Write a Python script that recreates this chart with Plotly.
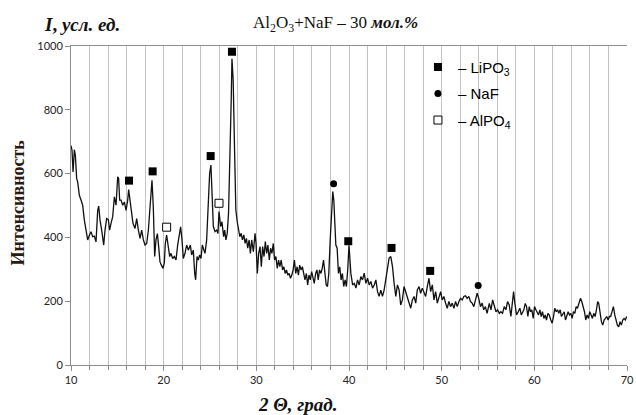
import plotly.graph_objects as go

# ---- data ----
two_theta = [
    10.0, 10.11, 10.22, 10.36, 10.47, 10.61, 10.72, 10.9, 11.08, 11.26, 11.44, 11.62, 11.8, 11.98,
    12.16, 12.34, 12.52, 12.7, 12.88, 12.99, 13.13, 13.31, 13.53, 13.67, 13.85, 14.03, 14.17, 14.32,
    14.5, 14.68, 14.86, 15.04, 15.14, 15.25, 15.4, 15.58, 15.76, 15.94, 16.12, 16.22, 16.37, 16.51,
    16.69, 16.91, 17.09, 17.27, 17.45, 17.63, 17.81, 17.99, 18.17, 18.35, 18.56, 18.74, 18.88, 19.03,
    19.17, 19.32, 19.46, 19.6, 19.75, 19.93, 20.07, 20.18, 20.32, 20.5, 20.65, 20.79, 20.97, 21.15,
    21.33, 21.51, 21.69, 21.83, 21.98, 22.12, 22.3, 22.48, 22.66, 22.88, 23.02, 23.2, 23.35, 23.45,
    23.6, 23.74, 23.88, 24.03, 24.17, 24.32, 24.46, 24.64, 24.82, 24.96, 25.1, 25.22, 25.36, 25.54,
    25.72, 25.86, 25.97, 26.15, 26.29, 26.47, 26.58, 26.72, 26.86, 27.0, 27.15, 27.29, 27.37, 27.5,
    27.65, 27.79, 27.94, 28.08, 28.22, 28.36, 28.5, 28.65, 28.79, 28.93, 29.07, 29.22, 29.36, 29.5,
    29.68, 29.86, 29.97, 30.11, 30.25, 30.4, 30.54, 30.68, 30.83, 30.97, 31.11, 31.25, 31.4, 31.54,
    31.68, 31.83, 31.97, 32.11, 32.26, 32.4, 32.54, 32.68, 32.83, 32.97, 33.11, 33.25, 33.4, 33.54,
    33.68, 33.83, 33.97, 34.11, 34.25, 34.4, 34.54, 34.68, 34.82, 34.97, 35.11, 35.25, 35.4, 35.54,
    35.68, 35.82, 35.97, 36.11, 36.25, 36.4, 36.54, 36.68, 36.82, 36.97, 37.11, 37.25, 37.4, 37.54,
    37.68, 37.82, 37.97, 38.11, 38.25, 38.36, 38.47, 38.58, 38.72, 38.86, 39.0, 39.15, 39.29, 39.43,
    39.58, 39.72, 39.86, 40.0, 40.2, 40.39, 40.57, 40.75, 40.92, 41.1, 41.28, 41.46, 41.64, 41.82,
    42.0, 42.18, 42.36, 42.54, 42.72, 42.9, 43.08, 43.25, 43.43, 43.61, 43.79, 43.97, 44.15, 44.33,
    44.51, 44.69, 44.87, 45.05, 45.23, 45.41, 45.58, 45.76, 45.94, 46.12, 46.3, 46.48, 46.66, 46.84,
    47.02, 47.2, 47.37, 47.56, 47.73, 47.91, 48.09, 48.27, 48.45, 48.63, 48.81, 48.99, 49.17, 49.35,
    49.53, 49.71, 49.89, 50.06, 50.24, 50.42, 50.6, 50.78, 50.96, 51.14, 51.32, 51.5, 51.68, 51.86,
    52.04, 52.22, 52.39, 52.57, 52.75, 52.93, 53.11, 53.29, 53.47, 53.65, 53.83, 54.0, 54.19, 54.37,
    54.54, 54.72, 54.9, 55.14, 55.32, 55.5, 55.68, 55.86, 56.04, 56.22, 56.39, 56.57, 56.75, 56.93,
    57.11, 57.29, 57.47, 57.65, 57.76, 57.9, 58.08, 58.26, 58.44, 58.59, 58.73, 58.87, 59.02, 59.16,
    59.3, 59.45, 59.59, 59.73, 59.88, 60.02, 60.17, 60.31, 60.45, 60.6, 60.74, 60.88, 61.03, 61.17,
    61.31, 61.46, 61.6, 61.78, 61.92, 62.07, 62.21, 62.36, 62.5, 62.64, 62.79, 62.93, 63.07, 63.22,
    63.36, 63.5, 63.65, 63.79, 63.94, 64.08, 64.22, 64.37, 64.51, 64.65, 64.83, 64.98, 65.12, 65.26,
    65.41, 65.55, 65.69, 65.84, 65.98, 66.13, 66.27, 66.41, 66.56, 66.7, 66.84, 66.95, 67.1, 67.24,
    67.38, 67.53, 67.67, 67.81, 67.96, 68.1, 68.24, 68.39, 68.53, 68.68, 68.82, 68.96, 69.11, 69.25,
    69.39, 69.54, 69.68, 69.82, 69.97,
]
intensity = [
    688, 673, 605, 675, 657, 585, 574, 532, 517, 501, 454, 423, 392, 407,
    418, 402, 404, 386, 485, 498, 454, 423, 376, 423, 459, 456, 423, 444,
    465, 527, 501, 590, 585, 517, 517, 501, 511, 485, 517, 550, 517, 470,
    444, 428, 459, 423, 397, 423, 392, 376, 381, 423, 506, 579, 496, 340,
    392, 412, 371, 324, 313, 303, 320, 381, 407, 376, 340, 350, 334, 340,
    329, 376, 402, 433, 392, 334, 350, 376, 360, 376, 345, 360, 287, 267,
    340, 329, 345, 334, 376, 360, 350, 392, 496, 600, 627, 548, 434, 418,
    423, 412, 481, 434, 449, 402, 423, 392, 413, 476, 622, 831, 960, 894,
    674, 486, 449, 418, 402, 413, 392, 408, 381, 397, 366, 392, 350, 392,
    355, 413, 381, 287, 350, 371, 308, 371, 340, 387, 350, 376, 329, 366,
    350, 381, 329, 340, 303, 329, 308, 329, 298, 308, 287, 298, 282, 287,
    272, 282, 298, 329, 287, 308, 282, 313, 298, 308, 287, 267, 287, 251,
    282, 267, 293, 277, 256, 287, 298, 267, 298, 287, 303, 329, 287, 251,
    246, 287, 392, 476, 544, 517, 413, 376, 366, 287, 308, 267, 287, 246,
    267, 246, 298, 375, 288, 251, 256, 241, 267, 251, 277, 267, 288, 256,
    272, 251, 262, 241, 251, 267, 230, 215, 235, 215, 235, 267, 309, 335,
    340, 309, 256, 215, 251, 235, 188, 204, 246, 230, 215, 194, 178, 204,
    215, 194, 235, 246, 225, 241, 225, 215, 246, 272, 230, 251, 204, 230,
    194, 215, 230, 204, 215, 194, 178, 199, 183, 194, 178, 199, 183, 199,
    209, 204, 215, 217, 209, 215, 199, 194, 183, 204, 225, 209, 183, 194,
    173, 183, 162, 193, 173, 204, 188, 167, 173, 162, 167, 162, 183, 173,
    199, 188, 152, 204, 230, 193, 157, 167, 178, 157, 167, 173, 193, 183,
    152, 183, 167, 173, 146, 183, 173, 167, 157, 173, 152, 167, 146, 157,
    141, 162, 157, 141, 131, 152, 178, 167, 173, 162, 173, 152, 162, 167,
    141, 157, 167, 157, 162, 146, 167, 162, 183, 178, 199, 209, 199, 183,
    167, 141, 157, 146, 167, 157, 146, 162, 152, 173, 199, 193, 152, 136,
    125, 141, 146, 152, 141, 152, 152, 173, 183, 157, 141, 125, 120, 136,
    125, 141, 146, 141, 152,
]

lipo3_x = [16.26, 18.81, 25.07, 27.37, 39.92, 44.59, 48.76]
lipo3_y = [578, 607, 655, 982, 388, 367, 295]
naf_x = [38.34, 53.94]
naf_y = [568, 249]
alpo4_x = [20.32, 25.97]
alpo4_y = [432, 507]

x_ticks = [10, 20, 30, 40, 50, 60, 70]
y_ticks = [0, 200, 400, 600, 800, 1000]

fig = go.Figure()
fig.add_trace(go.Scatter(x=two_theta, y=intensity, mode="lines",
                         line=dict(color="#111111", width=1.3),
                         showlegend=False, hoverinfo="skip"))
fig.add_trace(go.Scatter(x=lipo3_x, y=lipo3_y, mode="markers", name="– LiPO<sub>3</sub>",
                         marker=dict(symbol="square", size=8, color="black"),
                         legendgroup="a"))
fig.add_trace(go.Scatter(x=naf_x, y=naf_y, mode="markers", name="– NaF",
                         marker=dict(symbol="circle", size=7, color="black"),
                         legendgroup="b"))
fig.add_trace(go.Scatter(x=alpo4_x, y=alpo4_y, mode="markers", name="– AlPO<sub>4</sub>",
                         marker=dict(symbol="square", size=8, color="white",
                                     line=dict(color="black", width=1)),
                         legendgroup="c"))

serif = "Liberation Serif"
fig.update_layout(
    width=636, height=415,
    margin=dict(l=71, r=9, t=46, b=50, autoexpand=False),
    paper_bgcolor="white", plot_bgcolor="white",
    showlegend=True,
    legend=dict(x=0.624, y=0.985, xanchor="left", yanchor="top",
                bgcolor="rgba(0,0,0,0)", borderwidth=0,
                font=dict(family="Liberation Sans", size=15, color="black"),
                tracegroupgap=4, itemwidth=30),
    xaxis=dict(range=[10, 70], tickvals=x_ticks, ticks="outside", ticklen=5,
               tickcolor="#8c8c8c", showline=True, linecolor="#8c8c8c", linewidth=1,
               mirror=True, showgrid=True, gridcolor="#c4c4c4", gridwidth=1,
               zeroline=False, automargin=False,
               minor=dict(dtick=2, showgrid=True, gridcolor="#c4c4c4", gridwidth=1,
                          ticks="outside", ticklen=4, tickcolor="#8c8c8c"),
               tickfont=dict(family="Lato", size=11, color="#222222")),
    yaxis=dict(range=[0, 1000], tickvals=y_ticks, ticks="outside", ticklen=5,
               tickcolor="#8c8c8c", showline=True, linecolor="#8c8c8c", linewidth=1,
               showgrid=False, zeroline=False, automargin=False,
               tickfont=dict(family="Lato", size=11, color="#222222")),
)

fig.add_annotation(text="<b><i>I</i>, <i>усл. ед.</i></b>", xref="paper", yref="paper",
                   x=-0.052, y=1.067, xanchor="left", yanchor="middle", showarrow=False,
                   font=dict(family=serif, size=19, color="#111111"))
fig.add_annotation(text="Al<sub>2</sub>O<sub>3</sub>+NaF – 30 <b><i>мол.%</i></b>",
                   xref="paper", yref="paper", x=0.476, y=1.07, xanchor="center",
                   yanchor="middle", showarrow=False,
                   font=dict(family=serif, size=17, color="#111111"))
fig.add_annotation(text="<b>Интенсивность</b>", xref="paper", yref="paper",
                   x=-0.095, y=0.51, xanchor="center", yanchor="middle", textangle=-90,
                   showarrow=False, font=dict(family=serif, size=18, color="#2a1a10"))
fig.add_annotation(text="<b><i>2 Θ, град.</i></b>", xref="paper", yref="paper",
                   x=0.408, y=-0.125, xanchor="center", yanchor="middle", showarrow=False,
                   font=dict(family=serif, size=19, color="#111111"))

fig.write_html("out.html")
